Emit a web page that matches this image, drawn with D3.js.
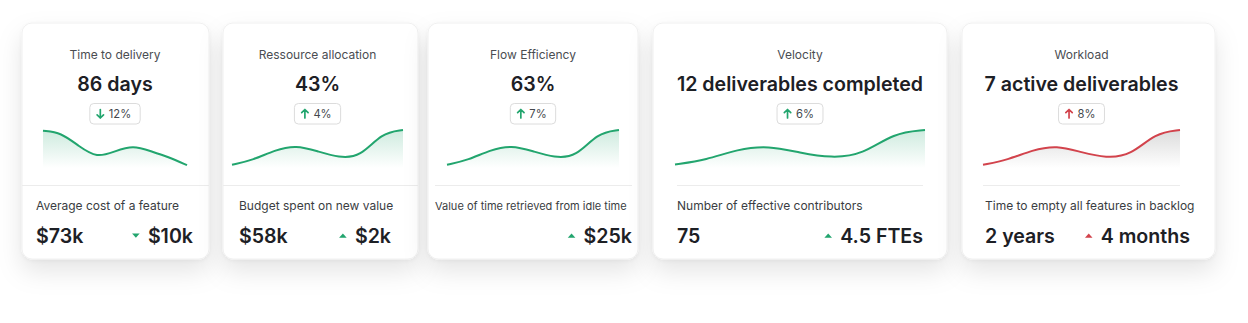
<!DOCTYPE html>
<html>
<head>
<meta charset="utf-8">
<script src="https://cdn.jsdelivr.net/npm/d3@7"></script>
<style>
  html, body { margin: 0; padding: 0; background: #fff; }
  svg { display: block; font-family: Inter, "Noto Sans", sans-serif; }
</style>
</head>
<body>
<div id="chart"></div>
<script>
// card texts
var titles      = ["Time to delivery", "Ressource allocation", "Flow Efficiency", "Velocity", "Workload"]
var mainValues  = ["86 days", "43%", "63%", "12 deliverables completed", "7 active deliverables"]
var changePct   = [12, 4, 7, 6, 8]
var changeDir   = ["down", "up", "up", "up", "up"]
var changeTone  = ["good", "good", "good", "good", "bad"]
var footLabels  = ["Average cost of a feature", "Budget spent on new value", "Value of time retrieved from idle time", "Number of effective contributors", "Time to empty all features in backlog"]
var footValues  = ["$73k", "$58k", "", "75", "2 years"]
var footDeltas  = ["$10k", "$2k", "$25k", "4.5 FTEs", "4 months"]
var footDir     = ["down", "up", "up", "up", "up"]

// sparkline series (0-100 scale)
var trendDelivery = [93, 89, 54, 25, 42, 57, 42, 27, 7]
var trendResource = [8, 20, 45, 57, 42, 26, 27, 88, 95]
var trendFlow     = [8, 20, 45, 57, 42, 26, 27, 88, 95]
var trendVelocity = [9, 20, 47, 56, 38, 25, 33, 88, 95]
var trendWorkload = [8, 20, 45, 57, 39, 25, 31, 88, 95]
var trends = [trendDelivery, trendResource, trendFlow, trendVelocity, trendWorkload]

// layout of each card (pixels)
var cards = [
    {x: 22,  w: 187, cx0: 43,  cx1: 187,  dx0: 22,  dx1: 209,  tx0: 36,  tx1: 193, fs: 12},
    {x: 223, w: 195, cx0: 232, cx1: 403,  dx0: 223, dx1: 418,  tx0: 239, tx1: 391, fs: 12},
    {x: 428, w: 210, cx0: 447, cx1: 619,  dx0: 435, dx1: 632,  tx0: 435, tx1: 632, fs: 11},
    {x: 653, w: 294, cx0: 675, cx1: 925,  dx0: 677, dx1: 923,  tx0: 677, tx1: 923, fs: 12},
    {x: 962, w: 253, cx0: 983, cx1: 1180, dx0: 983, dx1: 1180, tx0: 985, tx1: 1190, fs: 12}
]
var cardTop = 23, cardH = 236

var GREEN = "#22a56e", RED = "#d2434c"

var svg = d3.select("#chart").append("svg")
    .attr("width", 1248)
    .attr("height", 323)

var defs = svg.append("defs")

var shadow = defs.append("filter")
    .attr("id", "shadow")
    .attr("x", "-20%").attr("y", "-20%")
    .attr("width", "140%").attr("height", "160%")
shadow.append("feDropShadow")
    .attr("dx", 0).attr("dy", 12).attr("stdDeviation", 12)
    .attr("flood-color", "#000").attr("flood-opacity", 0.1)
shadow.append("feDropShadow")
    .attr("dx", 0).attr("dy", 1).attr("stdDeviation", 2)
    .attr("flood-color", "#000").attr("flood-opacity", 0.05)

function addGradient(id, color, opacity) {
    var g = defs.append("linearGradient")
        .attr("id", id)
        .attr("x1", 0).attr("y1", 0).attr("x2", 0).attr("y2", 1)
    g.append("stop").attr("offset", "0%").attr("stop-color", color).attr("stop-opacity", opacity)
    g.append("stop").attr("offset", "100%").attr("stop-color", color).attr("stop-opacity", 0)
}
addGradient("fill-good", GREEN, 0.22)
addGradient("fill-bad", "#9a9a9a", 0.35)

// vertical scale shared by all sparklines
var y = d3.scaleLinear().domain([0, 100]).range([168, 128])

cards.forEach(function(c, i) {
    var g = svg.append("g")
    var tone = changeTone[i] == "good" ? GREEN : RED
    var mid = (c.cx0 + c.cx1) / 2

    g.append("rect")
        .attr("x", c.x).attr("y", cardTop)
        .attr("width", c.w).attr("height", cardH)
        .attr("rx", 10)
        .attr("fill", "#fff")
        .attr("stroke", "#f0f0f0")
        .attr("filter", "url(#shadow)")

    // title
    g.append("text")
        .attr("x", mid).attr("y", 59)
        .attr("text-anchor", "middle")
        .attr("font-size", 12)
        .attr("fill", "#4a4d52")
        .text(titles[i])

    // main value
    g.append("text")
        .attr("x", mid).attr("y", 91)
        .attr("text-anchor", "middle")
        .attr("font-size", 19.6)
        .attr("font-weight", 600)
        .attr("fill", "#1d2025")
        .text(mainValues[i])

    // badge
    var badge = g.append("g")
    var bt = badge.append("text")
        .attr("y", 118)
        .attr("font-size", 11.2)
        .attr("fill", "#44474c")
        .text(changePct[i] + "%")
    var tw = bt.node().getComputedTextLength()
    var bw = tw + 28
    var bx = mid - bw / 2
    badge.insert("rect", "text")
        .attr("x", bx).attr("y", 103.5)
        .attr("width", bw).attr("height", 20.5)
        .attr("rx", 4)
        .attr("fill", "#fff")
        .attr("stroke", "#dcdcdc")
    bt.attr("x", bx + 19)
    var ax = bx + 10.5
    var arrow = changeDir[i] == "down"
        ? "M" + ax + ",109.5 V118 M" + (ax - 3.2) + ",114.8 L" + ax + ",118 L" + (ax + 3.2) + ",114.8"
        : "M" + ax + ",118 V109.5 M" + (ax - 3.2) + ",112.7 L" + ax + ",109.5 L" + (ax + 3.2) + ",112.7"
    badge.append("path")
        .attr("d", arrow)
        .attr("fill", "none")
        .attr("stroke", tone)
        .attr("stroke-width", 1.7)
        .attr("stroke-linecap", "round")
        .attr("stroke-linejoin", "round")

    // sparkline
    var x = d3.scaleLinear().domain([0, trends[i].length - 1]).range([c.cx0, c.cx1])
    var curve = d3.curveBasis
    var area = d3.area()
        .x(function(d, j) { return x(j) })
        .y0(y(0))
        .y1(function(d) { return y(d) })
        .curve(curve)
    var line = d3.line()
        .x(function(d, j) { return x(j) })
        .y(function(d) { return y(d) })
        .curve(curve)
    g.append("path")
        .datum(trends[i])
        .attr("d", area)
        .attr("fill", changeTone[i] == "good" ? "url(#fill-good)" : "url(#fill-bad)")
    g.append("path")
        .datum(trends[i])
        .attr("d", line)
        .attr("fill", "none")
        .attr("stroke", tone)
        .attr("stroke-width", 2)

    // divider
    g.append("line")
        .attr("x1", c.dx0).attr("x2", c.dx1)
        .attr("y1", 185.5).attr("y2", 185.5)
        .attr("stroke", "#ececec")

    // footer
    g.append("text")
        .attr("x", c.tx0).attr("y", 210)
        .attr("font-size", c.fs)
        .attr("fill", "#3a3d42")
        .text(footLabels[i])
    g.append("text")
        .attr("x", c.tx0).attr("y", 243)
        .attr("font-size", 19.6)
        .attr("font-weight", 600)
        .attr("fill", "#1d2025")
        .text(footValues[i])
    var dt = g.append("text")
        .attr("x", c.tx1).attr("y", 243)
        .attr("text-anchor", "end")
        .attr("font-size", 19.6)
        .attr("font-weight", 600)
        .attr("fill", "#1d2025")
        .text(footDeltas[i])
    var dw = dt.node().getComputedTextLength()
    var tx = c.tx1 - dw - 12
    var tri = footDir[i] == "down"
        ? "M" + (tx - 3.8) + ",233.5 L" + (tx + 3.8) + ",233.5 L" + tx + ",237.8 Z"
        : "M" + (tx - 3.8) + ",237.8 L" + (tx + 3.8) + ",237.8 L" + tx + ",233.5 Z"
    g.append("path")
        .attr("d", tri)
        .attr("fill", tone)
})
</script>
</body>
</html>
